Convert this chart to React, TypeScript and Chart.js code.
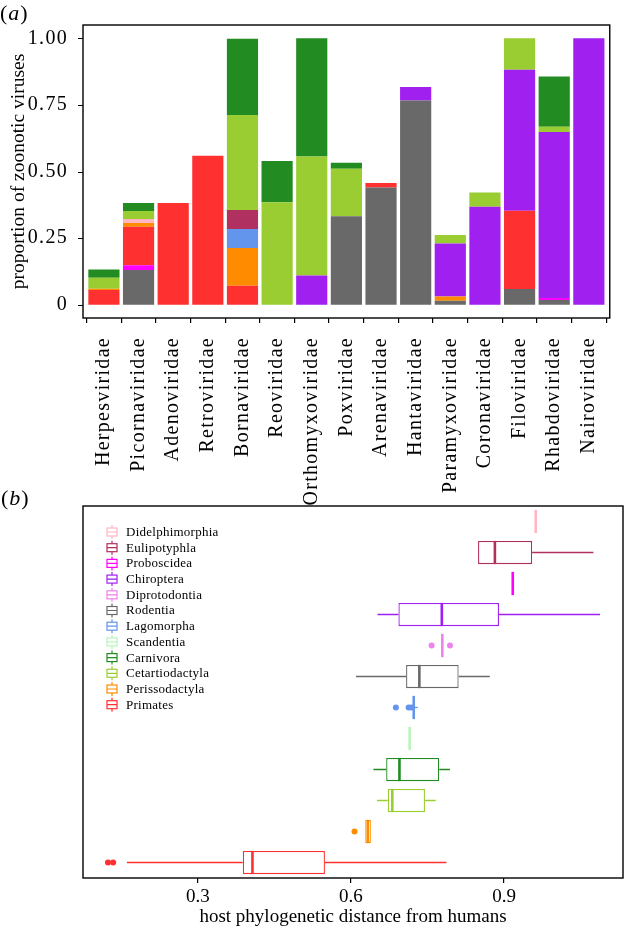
import React, { useEffect, useRef } from 'react';
import { Chart, registerables } from 'chart.js';
Chart.register(...registerables);

// ---------- Panel (a) data ----------
const families = ['Herpesviridae', 'Picornaviridae', 'Adenoviridae', 'Retroviridae', 'Bornaviridae', 'Reoviridae', 'Orthomyxoviridae', 'Poxviridae', 'Arenaviridae', 'Hantaviridae', 'Paramyxoviridae', 'Coronaviridae', 'Filoviridae', 'Rhabdoviridae', 'Nairoviridae'];
const yTickValuesA = [0, 0.25, 0.5, 0.75, 1];
const yTickLabelsA = ['0', '0.25', '0.50', '0.75', '1.00'];
const yTitleA = 'proportion of zoonotic viruses';

// stacked bottom -> top
const rodentiaA = [0, 0.130, 0, 0, 0, 0, 0, 0.332, 0.440, 0.767, 0.015, 0, 0.059, 0.018, 0];
const proboscideaA = [0, 0.018, 0, 0, 0, 0, 0, 0, 0, 0, 0, 0, 0, 0.007, 0];
const primatesA = [0.055, 0.145, 0.382, 0.559, 0.071, 0, 0, 0, 0.017, 0, 0, 0, 0.294, 0, 0];
const perissodactylaA = [0.005, 0.014, 0, 0, 0.142, 0, 0, 0, 0, 0, 0.016, 0, 0, 0, 0];
const lagomorphaA = [0, 0, 0, 0, 0.071, 0, 0, 0, 0, 0, 0, 0, 0, 0, 0];
const eulipotyphlaA = [0, 0, 0, 0, 0.071, 0, 0, 0, 0, 0, 0, 0, 0, 0, 0];
const didelphimorphiaA = [0, 0.015, 0, 0, 0, 0, 0, 0, 0, 0, 0, 0, 0, 0, 0];
const chiropteraA = [0, 0, 0, 0, 0, 0, 0.110, 0, 0, 0.050, 0.199, 0.368, 0.529, 0.623, 1.0];
const cetartiodactylaA = [0.041, 0.030, 0, 0, 0.357, 0.385, 0.446, 0.178, 0, 0, 0.032, 0.053, 0.118, 0.020, 0];
const carnivoraA = [0.031, 0.030, 0, 0, 0.286, 0.154, 0.444, 0.023, 0, 0, 0, 0, 0, 0.189, 0];

const stackHosts = ['Rodentia', 'Proboscidea', 'Primates', 'Perissodactyla', 'Lagomorpha', 'Eulipotyphla', 'Didelphimorphia', 'Chiroptera', 'Cetartiodactyla', 'Carnivora'];
const stackValues = [rodentiaA, proboscideaA, primatesA, perissodactylaA, lagomorphaA, eulipotyphlaA, didelphimorphiaA, chiropteraA, cetartiodactylaA, carnivoraA];

// ---------- Panel (b) data ----------
const hosts = ['Didelphimorphia', 'Eulipotyphla', 'Proboscidea', 'Chiroptera', 'Diprotodontia', 'Rodentia', 'Lagomorpha', 'Scandentia', 'Carnivora', 'Cetartiodactyla', 'Perissodactyla', 'Primates'];
const boxMin = [0.962, 0.849, 0.917, 0.652, 0.779, 0.610, 0.723, 0.715, 0.644, 0.651, 0.628, 0.161];
const boxQ1 = [0.962, 0.849, 0.917, 0.693, 0.779, 0.708, 0.723, 0.715, 0.669, 0.672, 0.628, 0.388];
const boxMedian = [0.962, 0.882, 0.917, 0.778, 0.779, 0.734, 0.723, 0.715, 0.695, 0.681, 0.633, 0.407];
const boxQ3 = [0.962, 0.955, 0.917, 0.890, 0.779, 0.811, 0.723, 0.715, 0.773, 0.745, 0.639, 0.549];
const boxMax = [0.962, 1.075, 0.917, 1.088, 0.779, 0.872, 0.731, 0.715, 0.794, 0.766, 0.639, 0.787];
const outlierHost = ['Diprotodontia', 'Diprotodontia', 'Lagomorpha', 'Lagomorpha', 'Lagomorpha', 'Perissodactyla', 'Primates', 'Primates'];
const outlierValue = [0.758, 0.794, 0.688, 0.713, 0.718, 0.607, 0.124, 0.134];
const xTicksB = [0.3, 0.6, 0.9];
const xTitleB = 'host phylogenetic distance from humans';

// ---------- styles ----------
const hostColors: Record<string, string> = {
  Didelphimorphia: '#FFB6C1',
  Eulipotyphla: '#B03060',
  Proboscidea: '#FF00FF',
  Chiroptera: '#A020F0',
  Diprotodontia: '#EE82EE',
  Rodentia: '#696969',
  Lagomorpha: '#6495ED',
  Scandentia: '#B9F5B9',
  Carnivora: '#228B22',
  Cetartiodactyla: '#9ACD32',
  Perissodactyla: '#FF8C00',
  Primates: '#FF3030',
};
const FONT = '"Liberation Serif", "Times New Roman", serif';
const EXPAND_A = 3.6; // discrete-axis expansion beyond outer half-categories (px)

export default function App() {
  const refA = useRef<HTMLCanvasElement>(null);
  const refB = useRef<HTMLCanvasElement>(null);

  useEffect(() => {
    Chart.defaults.font.family = FONT;
    Chart.defaults.color = '#000';

    const panelAPlugin = {
      id: 'panelA',
      beforeDraw(chart: any) {
        chart.ctx.letterSpacing = '1.3px';
      },
      afterDraw(chart: any) {
        const { ctx, chartArea: a } = chart;
        const ys = chart.scales.y;
        const left = a.left - EXPAND_A;
        const right = a.right + EXPAND_A;
        ctx.save();
        ctx.letterSpacing = '0px';
        ctx.strokeStyle = '#000';
        ctx.lineWidth = 1.4;
        ctx.strokeRect(left, a.top, right - left, a.bottom - a.top);
        // y tick marks
        ctx.lineWidth = 1.2;
        ctx.beginPath();
        yTickValuesA.forEach((v) => {
          const y = Math.round(ys.getPixelForValue(v)) + 0.5;
          ctx.moveTo(left - 5, y);
          ctx.lineTo(left, y);
        });
        ctx.stroke();
        // y title
        ctx.translate(19, (a.top + a.bottom) / 2);
        ctx.rotate(-Math.PI / 2);
        ctx.font = `19.5px ${FONT}`;
        ctx.fillStyle = '#000';
        ctx.textAlign = 'center';
        ctx.textBaseline = 'middle';
        ctx.fillText(yTitleA, 0, 0);
        ctx.restore();
      },
    };

    const chartA = new Chart(refA.current!, {
      type: 'bar',
      data: {
        labels: families,
        datasets: stackHosts.map((h, i) => ({
          label: h,
          data: stackValues[i],
          backgroundColor: hostColors[h],
          borderWidth: 0,
          barPercentage: 0.9,
          categoryPercentage: 1,
        })),
      },
      options: {
        animation: false,
        responsive: false,
        layout: { padding: { top: 25, right: 1 + EXPAND_A, left: EXPAND_A, bottom: 0 } },
        plugins: { legend: { display: false }, tooltip: { enabled: false } },
        scales: {
          x: {
            stacked: true,
            grid: { drawOnChartArea: false, tickLength: 5, color: '#000', tickColor: '#000', lineWidth: 1.2 },
            border: { display: false },
            ticks: { minRotation: 90, maxRotation: 90, autoSkip: false, padding: 14, font: { size: 20 }, color: '#000' },
            afterFit: (s: any) => { s.height = 515 - 318; },
          },
          y: {
            stacked: true,
            min: -0.05,
            max: 1.05,
            afterBuildTicks: (s: any) => { s.ticks = yTickValuesA.map((v) => ({ value: v })); },
            grid: { display: false },
            border: { display: false },
            ticks: {
              padding: 10.6,
              font: { size: 20 },
              color: '#000',
              callback: (v: any) => yTickLabelsA[yTickValuesA.indexOf(Number(v))] ?? '',
            },
            afterFit: (s: any) => { s.width = 83; },
          },
        },
      },
      plugins: [panelAPlugin],
    } as any);

    const panelBPlugin = {
      id: 'panelB',
      afterDatasetsDraw(chart: any) {
        const { ctx } = chart;
        const xs = chart.scales.x;
        const meta = chart.getDatasetMeta(0);
        ctx.save();
        hosts.forEach((h, i) => {
          const el = meta.data[i];
          const yc = el.y;
          const half = el.height / 2;
          ctx.strokeStyle = hostColors[h];
          ctx.lineWidth = 1.3;
          ctx.beginPath();
          if (boxMin[i] < boxQ1[i]) {
            ctx.moveTo(xs.getPixelForValue(boxMin[i]), yc);
            ctx.lineTo(xs.getPixelForValue(boxQ1[i]), yc);
          }
          if (boxMax[i] > boxQ3[i]) {
            ctx.moveTo(xs.getPixelForValue(boxQ3[i]), yc);
            ctx.lineTo(xs.getPixelForValue(boxMax[i]), yc);
          }
          ctx.stroke();
          ctx.lineWidth = 2.6;
          ctx.beginPath();
          const mx = xs.getPixelForValue(boxMedian[i]);
          ctx.moveTo(mx, yc - half);
          ctx.lineTo(mx, yc + half);
          ctx.stroke();
        });
        ctx.restore();
      },
      afterDraw(chart: any) {
        const { ctx, chartArea: a } = chart;
        ctx.save();
        ctx.strokeStyle = '#000';
        ctx.lineWidth = 1.4;
        ctx.strokeRect(a.left, a.top, a.right - a.left, a.bottom - a.top);
        // legend
        const lx = a.left + 29;
        const ly = a.top + 26;
        const step = 15.7;
        ctx.font = `13px ${FONT}`;
        ctx.letterSpacing = '0.25px';
        ctx.textBaseline = 'middle';
        ctx.textAlign = 'left';
        hosts.forEach((h, i) => {
          const y = ly + i * step;
          ctx.strokeStyle = hostColors[h];
          ctx.lineWidth = 1.2;
          ctx.beginPath();
          ctx.moveTo(lx, y - 7);
          ctx.lineTo(lx, y - 4);
          ctx.moveTo(lx, y + 4);
          ctx.lineTo(lx, y + 7);
          ctx.moveTo(lx - 5, y);
          ctx.lineTo(lx + 5, y);
          ctx.stroke();
          ctx.strokeRect(lx - 5, y - 4, 10, 8);
          ctx.fillStyle = '#000';
          ctx.fillText(h, lx + 14, y + 0.5);
        });
        ctx.restore();
      },
    };

    const chartB = new Chart(refB.current!, {
      type: 'bar',
      data: {
        labels: hosts,
        datasets: [
          {
            type: 'bar',
            indexAxis: 'y',
            data: hosts.map((_, i) => [boxQ1[i], boxQ3[i]]),
            backgroundColor: '#ffffff',
            borderColor: hosts.map((h) => hostColors[h]),
            borderWidth: 1.3,
            borderSkipped: false,
            barPercentage: 0.75,
            categoryPercentage: 1,
          },
          {
            type: 'scatter',
            data: outlierHost.map((h, i) => ({ x: outlierValue[i], y: h })),
            backgroundColor: outlierHost.map((h) => hostColors[h]),
            borderWidth: 0,
            pointRadius: 3,
            showLine: false,
          },
        ],
      },
      options: {
        animation: false,
        responsive: false,
        layout: { padding: { top: 11, left: 83, right: 3, bottom: 0 } },
        plugins: { legend: { display: false }, tooltip: { enabled: false } },
        scales: {
          x: {
            type: 'linear',
            min: 0.075,
            max: 1.133,
            offset: false,
            afterBuildTicks: (s: any) => { s.ticks = xTicksB.map((v) => ({ value: v })); },
            grid: { offset: false, drawOnChartArea: false, tickLength: 5, color: '#000', tickColor: '#000', lineWidth: 1.2 },
            border: { display: false },
            ticks: { padding: 3, font: { size: 19 }, color: '#000', callback: (v: any) => String(v) },
            title: { display: true, text: xTitleB, font: { size: 19 }, color: '#000', padding: { top: 0, bottom: 4 } },
            afterFit: (s: any) => { s.height = 54; },
          },
          y: {
            type: 'category',
            labels: hosts,
            offset: true,
            grid: { offset: true },
            display: false,
          },
        },
      },
      plugins: [panelBPlugin],
    } as any);

    return () => {
      chartA.destroy();
      chartB.destroy();
    };
  }, []);

  return (
    <div style={{ position: 'absolute', left: 0, top: 0, width: 627, height: 932, background: '#fff', fontFamily: FONT, color: '#000' }}>
      <canvas ref={refA} width={627} height={515} style={{ position: 'absolute', left: 0, top: 0, width: 627, height: 515 }} />
      <canvas ref={refB} width={627} height={437} style={{ position: 'absolute', left: 0, top: 495, width: 627, height: 437 }} />
      <div style={{ position: 'absolute', left: 0, top: 2, fontSize: 22, lineHeight: '22px', letterSpacing: 1 }}>(<i>a</i>)</div>
      <div style={{ position: 'absolute', left: 1, top: 487, fontSize: 22, lineHeight: '22px', letterSpacing: 1 }}>(<i>b</i>)</div>
    </div>
  );
}
